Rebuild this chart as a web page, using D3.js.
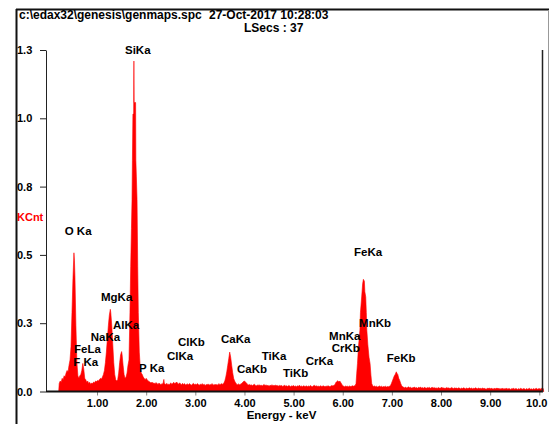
<!DOCTYPE html>
<html>
<head>
<meta charset="utf-8">
<script src="https://cdn.jsdelivr.net/npm/d3@7"></script>
<style>
  body { margin: 0; background: #fff; }
  svg { display: block; font-family: "Liberation Sans", Arial, sans-serif; font-weight: bold; }
</style>
</head>
<body>
<svg width="549" height="424"></svg>
<script>
const svg = d3.select("svg");
const width = +svg.attr("width");
const height = +svg.attr("height");

// header texts
const filePath = "c:\\edax32\\genesis\\genmaps.spc";
const stamp = "27-Oct-2017 10:28:03";
const liveSecs = "LSecs : 37";

// axis ticks
const xTicks = [1, 2, 3, 4, 5, 6, 7, 8, 9, 10];
const yTicks = [0, 0.26, 0.52, 0.78, 1.04, 1.30];

// spectrum: [energy keV, KCnt]
const spectrum = [
  [0.22,0],[0.23,0.03],[0.25,0.04],[0.27,0.035],[0.29,0.05],[0.31,0.045],[0.33,0.06],[0.35,0.055],
  [0.37,0.07],[0.39,0.08],[0.41,0.075],[0.43,0.1],[0.45,0.12],
  [0.47,0.17],[0.49,0.3],[0.51,0.43],[0.53,0.528],[0.54,0.5],[0.55,0.44],[0.57,0.25],[0.59,0.11],[0.61,0.06],
  [0.63,0.05],[0.65,0.06],[0.67,0.065],[0.69,0.08],[0.71,0.107],[0.73,0.085],[0.75,0.05],[0.77,0.045],
  [0.79,0.035],[0.81,0.04],[0.83,0.03],[0.85,0.035],[0.87,0.028],[0.89,0.032],[0.91,0.03],[0.93,0.036],
  [0.95,0.033],[0.97,0.04],[0.99,0.038],[1.01,0.042],[1.03,0.04],[1.05,0.046],[1.07,0.05],[1.09,0.048],
  [1.11,0.055],[1.13,0.065],[1.15,0.08],
  [1.17,0.11],[1.19,0.15],[1.21,0.2],[1.23,0.25],[1.25,0.29],[1.27,0.313],[1.28,0.3],[1.30,0.25],
  [1.32,0.18],[1.34,0.11],[1.36,0.065],[1.38,0.045],[1.40,0.04],[1.42,0.045],
  [1.44,0.07],[1.46,0.11],[1.48,0.14],[1.50,0.152],[1.51,0.14],[1.53,0.1],[1.55,0.065],[1.57,0.05],
  [1.59,0.055],[1.61,0.07],[1.63,0.1],
  [1.65,0.12],[1.67,0.3],[1.685,0.475],[1.70,0.62],[1.712,0.73],[1.72,0.88],[1.73,1.056],[1.745,1.056],
  [1.75,1.258],[1.755,1.10],[1.785,1.10],[1.79,0.88],[1.80,0.82],[1.814,0.73],[1.828,0.475],[1.84,0.3],
  [1.86,0.15],[1.88,0.09],[1.90,0.07],
  [1.92,0.065],[1.94,0.055],[1.96,0.05],[1.98,0.045],[2.00,0.05],[2.02,0.045],[2.04,0.04],[2.06,0.038],[2.08,0.035],
  [2.10,0.032],[2.12,0.036],[2.14,0.03],[2.16,0.033],[2.18,0.028],[2.20,0.034],[2.22,0.03],[2.24,0.027],
  [2.26,0.032],[2.28,0.029],[2.30,0.026],[2.32,0.03],[2.34,0.028],[2.36,0.046],[2.37,0.03],[2.40,0.027],
  [2.42,0.031],[2.44,0.025],[2.46,0.029],[2.48,0.026],[2.50,0.033],[2.52,0.028],[2.54,0.03],[2.56,0.035],
  [2.58,0.03],[2.60,0.032],[2.62,0.036],[2.64,0.031],[2.66,0.028],[2.68,0.033],[2.70,0.029],[2.72,0.026],
  [2.74,0.031],[2.76,0.027],[2.78,0.03],[2.80,0.025],[2.84,0.029],[2.86,0.026],[2.88,0.03],[2.90,0.027],
  [2.92,0.024],[2.94,0.028],[2.96,0.031],[2.98,0.026],[3.00,0.029],[3.02,0.025],[3.04,0.03],[3.06,0.027],
  [3.08,0.024],[3.10,0.028],[3.12,0.026],[3.14,0.03],[3.16,0.025],[3.18,0.028],[3.20,0.023],[3.22,0.027],
  [3.24,0.025],[3.26,0.029],[3.28,0.024],[3.30,0.027],[3.32,0.025],[3.34,0.03],[3.36,0.026],[3.38,0.024],
  [3.40,0.028],[3.42,0.025],[3.44,0.027],[3.46,0.024],[3.48,0.03],[3.50,0.026],[3.52,0.028],[3.54,0.03],[3.56,0.027],
  [3.58,0.032],[3.60,0.04],[3.62,0.055],[3.64,0.075],[3.66,0.1],[3.68,0.125],[3.70,0.15],[3.72,0.13],
  [3.74,0.1],[3.76,0.072],[3.78,0.05],[3.80,0.04],[3.82,0.033],[3.84,0.028],[3.86,0.026],
  [3.88,0.029],[3.90,0.026],[3.92,0.028],[3.94,0.03],[3.96,0.034],[3.98,0.038],[4.00,0.04],[4.02,0.036],
  [4.04,0.032],[4.06,0.028],[4.08,0.025],
  [4.10,0.027],[4.12,0.024],[4.14,0.026],[4.16,0.022],[4.18,0.025],[4.20,0.028],[4.22,0.024],[4.24,0.021],
  [4.26,0.025],[4.28,0.023],[4.30,0.026],[4.32,0.022],[4.34,0.025],[4.36,0.021],[4.38,0.024],[4.40,0.027],
  [4.42,0.023],[4.44,0.025],[4.46,0.022],[4.48,0.024],[4.50,0.02],[4.52,0.024],[4.54,0.022],[4.56,0.026],
  [4.58,0.021],[4.60,0.024],[4.62,0.022],[4.64,0.025],[4.66,0.021],[4.68,0.023],[4.70,0.02],[4.72,0.024],
  [4.74,0.021],[4.76,0.023],[4.78,0.019],[4.80,0.022],[4.82,0.024],[4.84,0.02],[4.86,0.022],[4.88,0.019],
  [4.90,0.023],[4.92,0.021],[4.94,0.018],[4.96,0.022],[4.98,0.02],[5.00,0.023],[5.02,0.019],[5.04,0.021],
  [5.06,0.018],[5.08,0.022],[5.10,0.02],[5.12,0.024],[5.14,0.019],[5.16,0.021],[5.18,0.018],[5.20,0.022],
  [5.22,0.02],[5.24,0.019],[5.26,0.022],[5.28,0.018],[5.30,0.021],[5.32,0.019],[5.34,0.023],[5.36,0.02],
  [5.38,0.018],[5.40,0.021],[5.42,0.024],[5.44,0.02],[5.46,0.022],[5.48,0.019],[5.50,0.021],[5.52,0.018],
  [5.54,0.022],[5.56,0.02],[5.58,0.019],[5.60,0.022],[5.62,0.02],[5.64,0.018],[5.66,0.021],[5.68,0.019],
  [5.70,0.022],[5.72,0.02],[5.74,0.018],[5.76,0.021],[5.78,0.023],[5.80,0.021],
  [5.84,0.026],[5.86,0.034],[5.88,0.038],[5.90,0.041],[5.92,0.036],[5.94,0.04],[5.96,0.034],[5.98,0.028],
  [6.00,0.022],[6.02,0.02],[6.04,0.018],[6.06,0.021],[6.08,0.019],[6.10,0.02],[6.12,0.018],[6.14,0.021],
  [6.16,0.019],[6.18,0.02],[6.20,0.022],[6.22,0.02],[6.24,0.022],
  [6.25,0.022],[6.27,0.03],[6.285,0.07],[6.30,0.107],[6.32,0.17],[6.35,0.234],[6.36,0.30],[6.385,0.36],
  [6.405,0.41],[6.42,0.427],[6.44,0.42],[6.45,0.38],[6.468,0.36],[6.48,0.30],[6.49,0.234],[6.51,0.18],
  [6.535,0.13],[6.556,0.107],[6.575,0.06],[6.59,0.03],[6.61,0.022],
  [6.63,0.019],[6.65,0.021],[6.67,0.018],[6.69,0.02],[6.71,0.017],[6.73,0.019],[6.75,0.021],[6.77,0.018],
  [6.79,0.02],[6.81,0.017],[6.83,0.019],[6.85,0.018],[6.87,0.02],[6.89,0.017],[6.91,0.019],[6.93,0.018],[6.95,0.02],
  [6.97,0.022],[6.99,0.03],[7.01,0.04],[7.03,0.05],[7.05,0.06],[7.07,0.066],[7.09,0.075],[7.10,0.07],
  [7.12,0.065],[7.14,0.05],[7.16,0.042],[7.18,0.03],[7.20,0.022],[7.22,0.018],
  [7.24,0.016],[7.26,0.014],[7.28,0.017],[7.30,0.013],[7.32,0.015],[7.34,0.018],[7.36,0.014],[7.38,0.016],
  [7.40,0.013],[7.44,0.015],[7.46,0.017],[7.48,0.013],[7.50,0.015],[7.52,0.012],[7.54,0.016],[7.56,0.014],
  [7.58,0.017],[7.60,0.013],[7.62,0.015],[7.64,0.012],[7.66,0.016],[7.68,0.014],[7.70,0.012],[7.72,0.015],
  [7.74,0.013],[7.76,0.016],[7.78,0.012],[7.80,0.014],[7.82,0.016],[7.84,0.013],[7.86,0.015],[7.88,0.012],
  [7.90,0.014],[7.92,0.011],[7.94,0.015],[7.96,0.013],[7.98,0.012],[8.00,0.014],[8.02,0.016],[8.04,0.012],
  [8.06,0.014],[8.08,0.011],[8.10,0.013],[8.12,0.015],[8.14,0.012],[8.16,0.014],[8.18,0.011],[8.20,0.013],
  [8.22,0.015],[8.24,0.012],[8.26,0.011],[8.28,0.014],[8.30,0.012],[8.32,0.013],[8.34,0.011],[8.36,0.014],
  [8.38,0.012],[8.40,0.01],[8.42,0.013],[8.44,0.011],[8.46,0.014],[8.48,0.012],[8.50,0.01],[8.52,0.013],
  [8.54,0.011],[8.56,0.012],[8.58,0.014],[8.60,0.011],[8.62,0.013],[8.64,0.01],[8.66,0.012],[8.68,0.011],
  [8.70,0.014],[8.72,0.012],[8.74,0.01],[8.76,0.013],[8.78,0.011],[8.80,0.012],[8.82,0.01],[8.84,0.013],
  [8.86,0.011],[8.88,0.012],[8.90,0.01],[8.92,0.009],[8.94,0.012],[8.96,0.011],[8.98,0.013],[9.00,0.01],
  [9.02,0.012],[9.04,0.011],[9.06,0.009],[9.08,0.012],[9.10,0.01],[9.12,0.011],[9.14,0.013],[9.16,0.01],
  [9.18,0.012],[9.20,0.009],[9.22,0.011],[9.24,0.01],[9.26,0.012],[9.28,0.009],[9.30,0.011],[9.32,0.01],
  [9.34,0.012],[9.36,0.009],[9.38,0.011],[9.40,0.01],[9.42,0.008],[9.44,0.011],[9.46,0.01],[9.48,0.012],
  [9.50,0.009],[9.52,0.011],[9.54,0.01],[9.56,0.008],[9.58,0.011],[9.60,0.009],[9.62,0.012],[9.64,0.01],
  [9.66,0.009],[9.68,0.011],[9.70,0.01],[9.72,0.008],[9.74,0.011],[9.76,0.009],[9.78,0.01],[9.80,0.012],
  [9.82,0.009],[9.84,0.01],[9.86,0.008],[9.88,0.011],[9.90,0.009],[9.92,0.01],[9.94,0.012],[9.96,0.009],
  [9.98,0.01],[10.00,0.011],[10.02,0.009],[10.04,0.012],[10.06,0.01],[10.08,0.011],[10.09,0]
];

// peak labels: name, anchor energy (keV), anchor height (KCnt)
const peakNames = ["SiKa","O Ka","MgKa","AlKa","NaKa","FeLa","F Ka","P Ka","ClKb","ClKa",
                   "CaKa","CaKb","TiKa","TiKb","CrKa","MnKa","CrKb","MnKb","FeKa","FeKb"];
const peakKeV   = [1.569,0.342,1.081,1.325,0.871,0.531,0.517,1.854,2.648,2.424,
                   3.523,3.849,4.352,4.785,5.247,5.722,5.777,6.332,6.230,6.896];
const peakKCnt  = [1.285,0.597,0.346,0.238,0.193,0.147,0.098,0.075,0.174,0.121,
                   0.185,0.070,0.121,0.056,0.102,0.197,0.150,0.246,0.515,0.111];

const x = d3.scaleLinear().domain([0, 10]).range([47.9, 539.3]);
const y = d3.scaleLinear().domain([0, 1.3]).range([391.5, 50]);

// outer frame
svg.append("line").attr("x1", 16).attr("x2", 549).attr("y1", 9.5).attr("y2", 9.5)
  .attr("stroke", "#111").attr("stroke-width", 2);
svg.append("line").attr("x1", 16.5).attr("x2", 16.5).attr("y1", 9).attr("y2", height)
  .attr("stroke", "#111").attr("stroke-width", 2);
svg.append("line").attr("x1", 548.5).attr("x2", 548.5).attr("y1", 10).attr("y2", 392)
  .attr("stroke", "#999").attr("stroke-width", 1);

// header
svg.append("text").attr("x", 19).attr("y", 19).attr("font-size", "12px").text(filePath);
svg.append("text").attr("x", 209).attr("y", 19).attr("font-size", "12px").text(stamp);
svg.append("text").attr("x", 244).attr("y", 32).attr("font-size", "12px").text(liveSecs);

// spectrum
const area = d3.area()
  .x(d => x(d[0]))
  .y0(y(0))
  .y1(d => y(d[1]));

svg.append("path")
  .datum(spectrum)
  .attr("d", area)
  .attr("fill", "#ff0000")
  .attr("stroke", "#ff0000")
  .attr("stroke-width", 0.6);

// y axis
const yAxis = svg.append("g")
  .attr("transform", "translate(46,0)")
  .call(d3.axisLeft(y).tickValues(yTicks).tickFormat(d3.format(".1f")).tickSize(6).tickSizeOuter(0));
yAxis.select(".domain").attr("stroke", "#222");
yAxis.selectAll(".tick line").attr("stroke", "#222");
yAxis.selectAll(".tick text")
  .attr("x", -29)
  .attr("text-anchor", "start")
  .attr("font-family", "Liberation Sans, Arial, sans-serif")
  .attr("font-weight", "bold")
  .attr("font-size", "11px")
  .attr("fill", "#000");

svg.append("text").attr("x", 17).attr("y", 221).attr("font-size", "11px")
  .attr("fill", "#ff0000").text("KCnt");

// x axis
const xAxis = svg.append("g")
  .attr("transform", "translate(0,391.5)")
  .call(d3.axisBottom(x).tickValues(xTicks)
    .tickFormat(d => d === 10 ? "10.0" : d.toFixed(2)).tickSize(4).tickSizeOuter(0));
xAxis.select(".domain").remove();
xAxis.selectAll(".tick line").attr("stroke", "#888");
xAxis.selectAll(".tick text")
  .attr("y", 7.5)
  .attr("font-family", "Liberation Sans, Arial, sans-serif")
  .attr("font-weight", "bold")
  .attr("font-size", "11px")
  .attr("fill", "#000");
// last label sits against the right frame
xAxis.selectAll(".tick text").filter(d => d === 10)
  .attr("text-anchor", "end")
  .attr("x", 547 - x(10));

svg.append("line").attr("x1", 46).attr("x2", 543).attr("y1", 391.5).attr("y2", 391.5)
  .attr("stroke", "#111").attr("stroke-width", 2);
svg.append("line").attr("x1", 542.5).attr("x2", 542.5).attr("y1", 50).attr("y2", 392)
  .attr("stroke", "#222").attr("stroke-width", 1.5);

svg.append("text").attr("x", 281.5).attr("y", 419).attr("text-anchor", "middle")
  .attr("font-size", "11.5px").text("Energy - keV");

// peak labels
svg.append("g").selectAll("text")
  .data(peakNames)
  .join("text")
  .attr("x", (d, i) => x(peakKeV[i]))
  .attr("y", (d, i) => y(peakKCnt[i]))
  .attr("font-size", "11.5px")
  .attr("fill", "#000")
  .text(d => d);
</script>
</body>
</html>
